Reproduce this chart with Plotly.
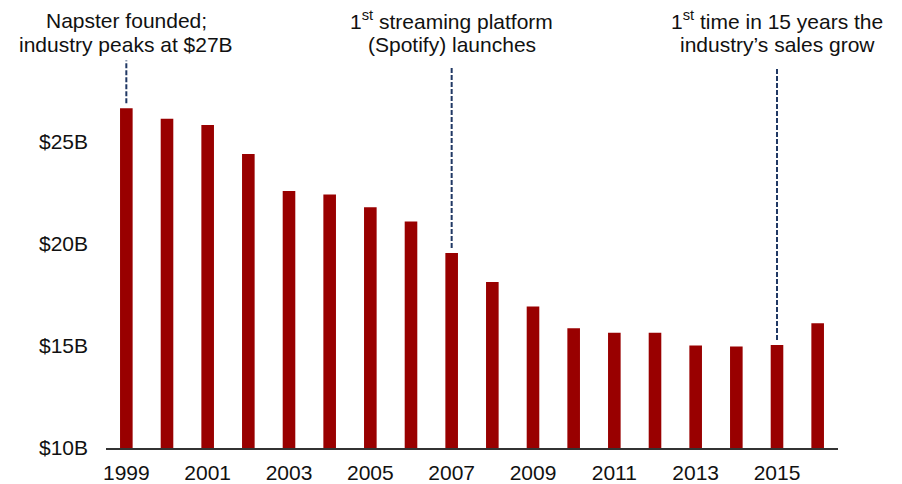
import plotly.graph_objects as go

years = [1999, 2000, 2001, 2002, 2003, 2004, 2005, 2006, 2007,
         2008, 2009, 2010, 2011, 2012, 2013, 2014, 2015, 2016]
sales_b = [26.65, 26.14, 25.83, 24.41, 22.60, 22.43, 21.80, 21.10, 19.56,
           18.14, 16.94, 15.87, 15.65, 15.65, 15.03, 14.97, 15.05, 16.11]

x_tick_vals = [1999, 2001, 2003, 2005, 2007, 2009, 2011, 2013, 2015]
x_tick_text = ["1999", "2001", "2003", "2005", "2007", "2009", "2011", "2013", "2015"]
y_tick_vals = [10, 15, 20, 25]
y_tick_text = ["$10B", "$15B", "$20B", "$25B"]

note_years = [1999, 2007, 2015]
note_lines = [
    ["Napster founded;", "industry peaks at $27B"],
    ["1<sup>st</sup> streaming platform", "(Spotify) launches"],
    ["1<sup>st</sup> time in 15 years the", "industry\u2019s sales grow"],
]
note_line_top = [29.0, 28.68, 28.68]

FONT = "Liberation Sans, Arial, sans-serif"
BAR_COLOR = "#990000"
DASH_COLOR = "#203864"
TEXT_COLOR = "#111111"

fig = go.Figure()
fig.add_trace(go.Bar(
    x=years, y=sales_b,
    marker=dict(color=BAR_COLOR, line=dict(width=0)),
    hoverinfo="x+y",
))

value_by_year = dict(zip(years, sales_b))
for yr, lines, top in zip(note_years, note_lines, note_line_top):
    fig.add_shape(
        type="line", xref="x", yref="y",
        x0=yr, x1=yr, y0=value_by_year[yr] + 0.25, y1=top,
        line=dict(color=DASH_COLOR, width=2, dash="5px,2px"),
    )
    for i, txt in enumerate(lines):
        fig.add_annotation(
            x=yr, xref="x", y=[1.103, 1.041][i], yref="paper",
            text=txt, showarrow=False, xanchor="center", yanchor="middle",
            font=dict(family=FONT, size=21, color=TEXT_COLOR),
        )

fig.update_layout(
    width=902, height=484,
    margin=dict(l=106, r=64, t=60, b=36),
    paper_bgcolor="white", plot_bgcolor="white",
    showlegend=False,
    bargap=0.69,
    font=dict(family=FONT, size=21, color=TEXT_COLOR),
)
fig.update_xaxes(
    type="linear", range=[1998.5, 2016.5],
    tickmode="array", tickvals=x_tick_vals, ticktext=x_tick_text,
    showline=True, linecolor="#333333", linewidth=2,
    showgrid=False, ticks="", zeroline=False,
    ticklabelstandoff=5, automargin=False,
    tickfont=dict(family=FONT, size=21, color=TEXT_COLOR),
)
fig.update_yaxes(
    range=[10, 29.02],
    tickmode="array", tickvals=y_tick_vals, ticktext=y_tick_text,
    showline=False, showgrid=False, zeroline=False, ticks="",
    ticklabelstandoff=17, automargin=False,
    tickfont=dict(family=FONT, size=21, color=TEXT_COLOR),
)

fig.write_html("out.html", config={"displayModeBar": False},
               post_script="document.body.style.margin='0';")
